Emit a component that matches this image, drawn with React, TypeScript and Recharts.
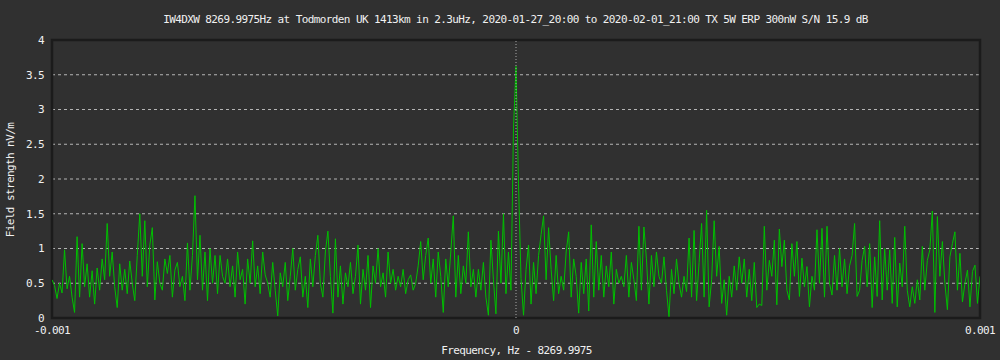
import { LineChart, Line, XAxis, YAxis, CartesianGrid, ReferenceLine, ReferenceArea } from 'recharts';

// field strength per bin (nV/m) left to right
const fieldStrength = [
  0.55, 0.47, 0.28, 0.5, 0.36, 0.98, 0.42, 0.6, 0.3, 0.08,
  1.17, 0.3, 1.07, 0.45, 0.78, 0.3, 0.68, 0.2, 0.72, 0.4,
  0.85, 0.55, 1.36, 0.6, 0.95, 0.45, 0.15, 0.78, 0.4, 0.7,
  0.35, 0.82, 0.5, 0.25, 0.9, 1.5, 0.6, 1.4, 0.45, 1.05,
  1.3, 0.26, 0.81, 0.5, 0.4, 0.85, 0.64, 0.9, 0.3, 0.69,
  0.8, 0.45, 0.6, 0.25, 1.08, 0.4, 0.9, 1.76, 0.55, 1.19,
  0.4, 0.95, 0.25, 1.0, 0.5, 0.9, 0.35, 0.9, 0.6, 0.5,
  0.85, 0.45, 0.75, 0.3, 0.95, 0.55, 0.7, 0.2, 0.85, 0.5,
  1.11, 0.45, 0.75, 0.35, 0.95, 0.62, 0.5, 0.3, 0.8, 0.4,
  0.03, 0.65, 0.45, 0.8, 0.25, 0.6, 1.0, 0.4, 0.7, 0.88,
  0.3, 0.6, 0.15, 0.85, 0.45, 0.9, 1.19, 0.5, 0.3, 0.95,
  1.25, 0.6, 0.07, 1.14, 0.3, 0.75, 0.2, 0.65, 0.45, 0.8,
  0.35, 0.6, 1.05, 0.2, 0.7, 0.4, 0.9, 0.15, 0.75, 0.5,
  1.0, 0.45, 0.65, 0.3, 0.95, 0.5, 0.7, 0.4, 0.6, 0.45,
  0.7, 0.35, 0.55, 0.62, 0.4, 0.5, 0.75, 1.1, 0.55, 0.9,
  1.15, 0.5, 0.85, 0.3, 0.95, 0.6, 0.08, 0.85, 0.45, 0.95,
  1.47, 0.3, 0.9, 0.35, 0.75, 0.5, 1.24, 0.45, 0.7, 0.3,
  0.7, 0.4, 0.8, 0.3, 0.04, 1.12, 0.55, 0.06, 1.25, 0.5,
  1.5, 0.35, 0.95, 0.4, 2.73, 3.62, 1.93, 0.57, 0.04, 0.7,
  1.05, 0.2, 0.8, 0.35, 0.9, 1.2, 1.47, 0.55, 1.3, 0.7,
  0.25, 0.9, 0.35, 0.6, 0.4, 0.95, 1.24, 0.3, 0.85, 0.6,
  0.07, 0.8, 0.35, 0.85, 0.1, 1.34, 0.3, 1.1, 0.4, 0.9,
  0.3, 0.75, 0.45, 0.95, 0.2, 0.7, 0.5, 0.6, 0.45, 0.9,
  0.3, 0.8, 0.55, 0.25, 1.32, 0.4, 1.31, 0.85, 0.2, 0.9,
  0.45, 0.95, 0.6, 0.5, 0.88, 0.4, 0.02, 0.7, 0.35, 0.85,
  0.5, 0.3, 0.6, 0.38, 1.15, 0.3, 1.26, 0.25, 0.8, 1.36,
  0.3, 1.55, 0.16, 0.55, 1.4, 0.6, 1.03, 0.21, 0.55, 0.04,
  0.6, 0.3, 0.75, 0.4, 0.88, 0.5, 0.85, 0.3, 0.7, 0.25,
  0.8, 0.15, 0.2, 0.18, 1.32, 0.4, 0.83, 0.6, 1.12, 0.19,
  1.28, 0.74, 1.12, 0.4, 0.26, 1.07, 0.6, 1.1, 0.31, 0.86,
  0.45, 0.74, 0.16, 0.6, 0.4, 1.27, 0.5, 1.29, 0.3, 1.32,
  0.5, 0.33, 0.9, 0.4, 1.0, 0.45, 0.85, 0.35, 0.75, 0.9,
  1.36, 0.31, 0.4, 0.83, 1.03, 0.45, 1.07, 0.15, 0.88, 0.31,
  1.4, 0.26, 1.0, 0.4, 0.98, 0.21, 1.16, 0.16, 0.79, 0.45,
  1.32, 0.4, 0.16, 0.45, 0.21, 0.55, 0.26, 1.03, 0.4, 0.83,
  0.98, 1.54, 0.08, 1.46, 0.6, 1.1, 0.5, 0.12, 0.88, 1.07,
  1.24, 0.4, 0.93, 0.23, 0.5, 0.69, 0.16, 0.67, 0.76, 0.21, 0.6,
];

const xTicks = [-0.001, 0, 0.001];
const xTickLabels = ['-0.001', '0', '0.001'];
const yTicks = [0, 0.5, 1, 1.5, 2, 2.5, 3, 3.5, 4];
const gridValues = [0.5, 1, 1.5, 2, 2.5, 3, 3.5];

// bins are evenly spaced over the ±0.001 Hz window
const spanHz = 0.002;
const data = fieldStrength.map((v, i) => ({
  f: -0.001 + (i * spanHz) / (fieldStrength.length - 1),
  v,
}));

const BG = '#303030';
const FRAME = '#1b1b1b';
const TEXT = '#f0f0f0';
const FONT = '"DejaVu Sans Mono", "Liberation Mono", monospace';

const tickStyle = { fill: TEXT, fontSize: 11, fontFamily: FONT, letterSpacing: -0.6 };
const textStyle = {
  position: 'absolute' as const,
  color: TEXT,
  fontSize: 11,
  fontFamily: FONT,
  letterSpacing: -0.6,
  lineHeight: '12px',
  height: 12,
  textAlign: 'center' as const,
  whiteSpace: 'nowrap' as const,
};

export default function App() {
  return (
    <div style={{ position: 'absolute', left: 0, top: 0, width: 1000, height: 360, background: BG }}>
      <LineChart width={1000} height={360} data={data} margin={{ top: 40, right: 20, bottom: 0, left: 0 }}>
        <CartesianGrid
          vertical={false}
          horizontalValues={gridValues}
          stroke="#b4b4b4"
          strokeDasharray="3 3"
        />
        <XAxis
          dataKey="f"
          type="number"
          domain={[-0.001, 0.001]}
          ticks={xTicks}
          tickFormatter={(v: number) => xTickLabels[xTicks.indexOf(v)] ?? String(v)}
          tick={tickStyle}
          axisLine={false}
          tickLine={false}
          height={42}
          allowDataOverflow
        />
        <YAxis
          type="number"
          domain={[0, 4]}
          ticks={yTicks}
          tick={tickStyle}
          axisLine={false}
          tickLine={false}
          width={52}
          allowDataOverflow
        />
        <Line
          type="linear"
          dataKey="v"
          stroke="#00c000"
          strokeWidth={1}
          dot={false}
          isAnimationActive={false}
        />
        <ReferenceLine x={0} stroke="#a8a8a8" strokeDasharray="1 2" />
        <ReferenceArea x1={-0.001} x2={0.001} y1={0} y2={4} fill="none" stroke={FRAME} strokeWidth={2.5} />
      </LineChart>
      <div style={{ ...textStyle, left: 0, top: 14, width: 1031 }}>
        IW4DXW 8269.9975Hz at Todmorden UK 1413km in 2.3uHz, 2020-01-27_20:00 to 2020-02-01_21:00 TX 5W ERP 300nW S/N 15.9 dB
      </div>
      <div style={{ ...textStyle, left: 0, top: 345, width: 1033 }}>Frequency, Hz - 8269.9975</div>
      <div style={{ ...textStyle, left: -89, top: 174, width: 200, transform: 'rotate(-90deg)' }}>
        Field strength nV/m
      </div>
    </div>
  );
}
